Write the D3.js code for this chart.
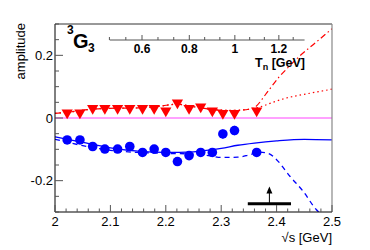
<!DOCTYPE html>
<html><head><meta charset="utf-8">
<script src="https://cdn.jsdelivr.net/npm/d3@7"></script>
<style>body{margin:0;background:#fff}svg{display:block}text{font-family:"Liberation Sans",Arial,sans-serif}</style>
</head><body>
<script>
// ---- data ----
const sqrtS = [2.022,2.045,2.068,2.090,2.113,2.135,2.158,2.179,2.200,2.221,2.242,2.263,2.284,2.303,2.324,2.364];
const redVals = [0.017,0.017,0.031,0.031,0.031,0.031,0.031,0.031,0.023,0.049,0.031,0.036,0.023,0.015,0.015,0.023];
const redErr  = [0.006,0.006,0.006,0.006,0.006,0.006,0.006,0.006,0.007,0.008,0.007,0.007,0.007,0.008,0.008,0.008];
const blueVals = [-0.070,-0.070,-0.091,-0.099,-0.099,-0.091,-0.110,-0.099,-0.110,-0.139,-0.120,-0.110,-0.110,-0.051,-0.040,-0.110];
const blueErr  = [0.008,0.008,0.008,0.008,0.008,0.009,0.009,0.009,0.009,0.010,0.010,0.010,0.010,0.015,0.015,0.010];

const blueSolidX = [2.00,2.05,2.10,2.15,2.20,2.25,2.28,2.30,2.33,2.36,2.40,2.45,2.50];
const blueSolidY = [-0.060,-0.078,-0.095,-0.106,-0.110,-0.108,-0.102,-0.097,-0.087,-0.080,-0.073,-0.068,-0.070];
const blueDashX = [2.00,2.05,2.10,2.15,2.20,2.25,2.28,2.30,2.33,2.35,2.37,2.385,2.40,2.424,2.448,2.4715,2.476];
const blueDashY = [-0.068,-0.088,-0.103,-0.110,-0.113,-0.115,-0.121,-0.126,-0.125,-0.118,-0.109,-0.113,-0.133,-0.186,-0.234,-0.292,-0.300];

const redCommonX = [2.00,2.03,2.06,2.10,2.15,2.19,2.22,2.25,2.28,2.32,2.35];
const redCommonY = [0.015,0.020,0.027,0.031,0.032,0.038,0.044,0.036,0.028,0.024,0.028];
const redDotX = [2.365,2.375,2.393,2.414,2.439,2.463,2.50];
const redDotY = [0.033,0.038,0.050,0.062,0.072,0.080,0.092];
const redDashDotX = [2.362,2.38,2.405,2.42,2.44,2.47,2.50];
const redDashDotY = [0.036,0.075,0.132,0.160,0.195,0.240,0.285];

const thresholdRange = [2.348, 2.426];
const thresholdCenter = 2.387;
const thresholdLevel = -0.274;
const arrowTip = -0.219;

const xTicks = [2.0,2.1,2.2,2.3,2.4,2.5];
const xTickLabels = ["2","2.1","2.2","2.3","2.4","2.5"];
const yTicks = [-0.2,0,0.2];
const yTickLabels = ["-0.2","0","0.2"];
const tnTicks = [0.6,0.8,1.0,1.2];
const tnTickLabels = ["0.6","0.8","1","1.2"];
const tnRange = [0.468,1.32];

// ---- layout ----
const W=370,H=250;
const L=55,R=332,T=24,B=212;
const x = d3.scaleLinear().domain([2,2.5]).range([L,R]);
const y = d3.scaleLinear().domain([-0.3,0.3]).range([B,T]);
const mN=0.9389;
const tnToS = t => Math.sqrt(4*mN*mN + 2*mN*t);

const svg = d3.select("body").append("svg").attr("width",W).attr("height",H);

const zip = (a,b)=>a.map((v,i)=>[v,b[i]]);
const line = d3.line().x(d=>x(d[0])).y(d=>y(d[1])).curve(d3.curveMonotoneX);

svg.append("clipPath").attr("id","c").append("rect")
  .attr("x",L).attr("y",T).attr("width",R-L).attr("height",B-T);
const g = svg.append("g").attr("clip-path","url(#c)");

// zero line
g.append("line").attr("x1",L).attr("x2",R).attr("y1",y(0)).attr("y2",y(0))
  .attr("stroke","#ff44ff").attr("stroke-width",1);

// curves
const redBase = zip(redCommonX, redCommonY);
g.append("path").attr("d",line(redBase.concat(zip(redDotX,redDotY))))
  .attr("fill","none").attr("stroke","#ff0000").attr("stroke-width",1.2).attr("stroke-dasharray","1.5,3");
g.append("path").attr("d",line(redBase.concat(zip(redDashDotX,redDashDotY))))
  .attr("fill","none").attr("stroke","#ff0000").attr("stroke-width",1.2).attr("stroke-dasharray","6,3,1.5,3");
g.append("path").attr("d",line(zip(blueSolidX,blueSolidY)))
  .attr("fill","none").attr("stroke","#0000ff").attr("stroke-width",1.3);
g.append("path").attr("d",line(zip(blueDashX,blueDashY)))
  .attr("fill","none").attr("stroke","#0000ff").attr("stroke-width",1.3).attr("stroke-dasharray","5,4");

// error bars
sqrtS.forEach((s,i)=>{
  g.append("line").attr("x1",x(s)).attr("x2",x(s)).attr("y1",y(redVals[i]-redErr[i])).attr("y2",y(redVals[i]+redErr[i]))
    .attr("stroke","#ff0000").attr("stroke-width",1);
  g.append("line").attr("x1",x(s)).attr("x2",x(s)).attr("y1",y(blueVals[i]-blueErr[i])).attr("y2",y(blueVals[i]+blueErr[i]))
    .attr("stroke","#0000ff").attr("stroke-width",1);
});
// markers
const tri = d3.symbol().type(d3.symbolTriangle).size(55);
g.selectAll(".rt").data(sqrtS).enter().append("path")
  .attr("d",tri).attr("fill","#ff0000")
  .attr("transform",(s,i)=>`translate(${x(s)},${y(redVals[i])}) rotate(180)`);
g.selectAll(".bc").data(sqrtS).enter().append("circle")
  .attr("cx",s=>x(s)).attr("cy",(s,i)=>y(blueVals[i])).attr("r",4.8).attr("fill","#0000ff");

// threshold bar + arrow
svg.append("line").attr("x1",x(thresholdRange[0])).attr("x2",x(thresholdRange[1]))
  .attr("y1",y(thresholdLevel)).attr("y2",y(thresholdLevel)).attr("stroke","#000").attr("stroke-width",3);
svg.append("line").attr("x1",x(thresholdCenter)).attr("x2",x(thresholdCenter))
  .attr("y1",y(thresholdLevel)).attr("y2",y(arrowTip)+5).attr("stroke","#000").attr("stroke-width",1);
svg.append("path").attr("d",`M${x(thresholdCenter)},${y(arrowTip)} l-3,7 l6,0 z`).attr("fill","#000");

// frame
svg.append("line").attr("x1",L).attr("x2",R).attr("y1",T).attr("y2",T).attr("stroke","#333");
svg.append("line").attr("x1",R).attr("x2",R).attr("y1",T).attr("y2",B).attr("stroke","#888").attr("stroke-width",1.2);
svg.append("line").attr("x1",L).attr("x2",L).attr("y1",T).attr("y2",B).attr("stroke","#000");
svg.append("line").attr("x1",L).attr("x2",R).attr("y1",B).attr("y2",B).attr("stroke","#000");

// x ticks
d3.range(2.0,2.5001,0.02).forEach(v=>{
  const major = Math.abs(v*10-Math.round(v*10))<1e-6;
  svg.append("line").attr("x1",x(v)).attr("x2",x(v)).attr("y1",B).attr("y2",B-(major?7:3.5)).attr("stroke","#555");
});
xTicks.forEach((v,i)=>svg.append("text").attr("x",x(v)).attr("y",225.5).attr("text-anchor","middle")
  .attr("font-size",13).text(xTickLabels[i]));
// y ticks
d3.range(-0.3,0.3001,0.05).forEach(v=>{
  const major = Math.abs(v*10-Math.round(v*10))<1e-6 && Math.round(v*10)%2===0;
  svg.append("line").attr("x1",L).attr("x2",L+(major?8:4)).attr("y1",y(v)).attr("y2",y(v)).attr("stroke","#555");
});
yTicks.forEach((v,i)=>svg.append("text").attr("x",53).attr("y",y(v)+4.5).attr("text-anchor","end")
  .attr("font-size",13).text(yTickLabels[i]));

// titles
svg.append("text").attr("transform","translate(24.5,23) rotate(-90)").attr("text-anchor","end")
  .attr("font-size",13).text("amplitude");
svg.append("text").attr("x",R).attr("y",242).attr("text-anchor","end").attr("font-size",13).text("√s [GeV]");

// 3G3 label
const lab = svg.append("text").attr("font-weight","bold").attr("fill","#000");
lab.append("tspan").attr("x",67).attr("y",34).attr("font-size",12).text("3");
lab.append("tspan").attr("x",73).attr("y",47.5).attr("font-size",20).text("G");
lab.append("tspan").attr("x",88).attr("y",52).attr("font-size",12).text("3");

// top Tn axis
const ty = 40;
svg.append("line").attr("x1",x(tnToS(tnRange[0]))).attr("x2",x(tnToS(tnRange[1]))).attr("y1",ty).attr("y2",ty)
  .attr("stroke","#555");
d3.range(0,13).map(k=>0.4667+k*0.2/3).filter(t=>t>=tnRange[0]-0.005&&t<=tnRange[1]).forEach(t=>{
  const major = tnTicks.some(m=>Math.abs(m-t)<0.01);
  svg.append("line").attr("x1",x(tnToS(t))).attr("x2",x(tnToS(t))).attr("y1",ty).attr("y2",ty-(major?5:3)).attr("stroke","#555");
});
tnTicks.forEach((t,i)=>svg.append("text").attr("x",x(tnToS(t))).attr("y",53).attr("text-anchor","middle")
  .attr("font-size",12).attr("font-weight","bold").text(tnTickLabels[i]));
const tt = svg.append("text").attr("x",305).attr("y",67).attr("text-anchor","end").attr("font-size",12.5).attr("font-weight","bold");
tt.append("tspan").text("T");
tt.append("tspan").attr("font-size",9).attr("dy",3).text("n");
tt.append("tspan").attr("dy",-3).text(" [GeV]");
</script>
</body></html>
